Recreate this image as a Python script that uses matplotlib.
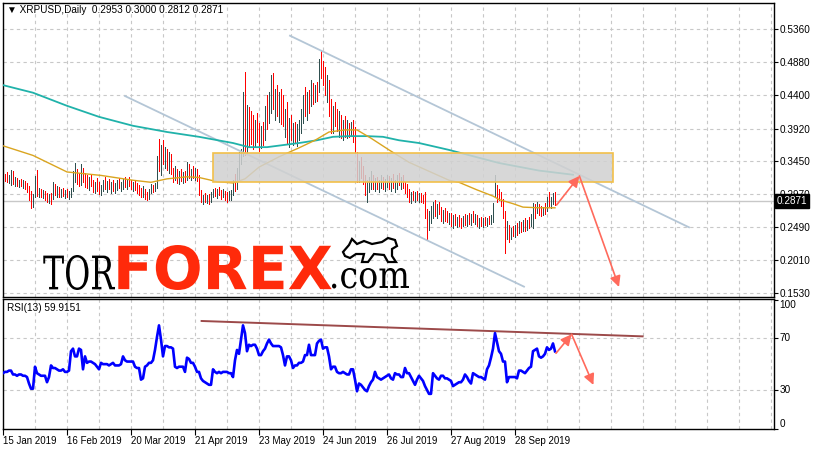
import numpy as np
import pandas as pd
import matplotlib
matplotlib.use('Agg')
import matplotlib.pyplot as plt
from matplotlib.patches import Rectangle, PathPatch, Polygon
from matplotlib.textpath import TextPath
from matplotlib.font_manager import FontProperties
from matplotlib.transforms import Affine2D, IdentityTransform

plt.rcParams['font.family'] = ['Liberation Sans', 'DejaVu Sans']

# --- data (daily bars from 15 Jan 2019) ---
symbol = 'XRPUSD,Daily'
start_date = '2019-01-15'
first_open = 0.325

high = [
    .330, .326, .329, .324, .332, .330, .322, .320, .318, .319,
    .317, .316, .313, .308, .302, .297, .323, .332, .306, .305,
    .303, .302, .299, .297, .298, .315, .312, .308, .307, .304,
    .306, .303, .305, .301, .306, .330, .342, .334, .328, .340,
    .335, .328, .325, .322, .326, .318, .315, .320, .314, .310,
    .318, .322, .316, .319, .314, .317, .313, .318, .320, .315,
    .319, .321, .318, .322, .317, .315, .316, .313, .310, .306,
    .308, .305, .300, .304, .312, .310, .313, .352, .377, .368,
    .375, .365, .362, .358, .355, .335, .338, .334, .330, .333,
    .329, .331, .343, .340, .334, .338, .335, .333, .325, .303,
    .296, .298, .295, .297, .300, .305, .306, .304, .307, .303,
    .305, .302, .300, .302, .303, .318, .326, .335, .358, .362,
    .445, .474, .426, .423, .418, .412, .405, .414, .400, .395,
    .402, .425, .441, .445, .470, .473, .450, .455, .445, .450,
    .440, .420, .430, .408, .412, .400, .402, .398, .405, .420,
    .440, .452, .445, .448, .462, .458, .455, .460, .493, .506,
    .490, .482, .470, .462, .435, .425, .430, .420, .418, .412,
    .405, .410, .404, .400, .402, .405, .394, .358, .345, .350,
    .338, .325, .318, .322, .330, .325, .320, .322, .318, .324,
    .322, .319, .325, .323, .320, .326, .318, .324, .328, .322,
    .325, .315, .312, .305, .300, .302, .300, .302, .298, .299,
    .296, .300, .275, .272, .280, .285, .288, .282, .285, .278,
    .274, .276, .272, .270, .270, .266, .268, .264, .267, .262,
    .265, .268, .266, .270, .268, .272, .268, .266, .262, .264,
    .262, .263, .262, .265, .266, .284, .325, .310, .305, .300,
    .290, .272, .258, .252, .248, .250, .252, .255, .258, .256,
    .260, .262, .260, .264, .268, .284, .283, .286, .282, .280,
    .278, .284, .292, .300, .292, .298, .3000,
]
low = [
    .315, .316, .314, .313, .310, .312, .309, .308, .307, .309,
    .306, .304, .300, .288, .277, .278, .292, .294, .293, .292,
    .291, .288, .286, .284, .283, .290, .296, .293, .293, .292,
    .294, .291, .293, .290, .292, .302, .315, .312, .309, .310,
    .314, .307, .306, .303, .309, .300, .298, .302, .297, .296,
    .301, .305, .300, .304, .299, .302, .299, .303, .306, .301,
    .305, .307, .304, .308, .304, .302, .303, .298, .296, .293,
    .292, .290, .288, .290, .298, .300, .301, .306, .330, .325,
    .340, .335, .332, .328, .326, .315, .318, .313, .312, .316,
    .313, .315, .318, .320, .317, .320, .318, .316, .296, .285,
    .283, .286, .284, .282, .285, .292, .294, .291, .295, .290,
    .292, .288, .286, .289, .288, .295, .302, .305, .318, .340,
    .352, .354, .357, .365, .370, .362, .365, .372, .360, .364,
    .368, .375, .392, .400, .415, .420, .405, .410, .402, .398,
    .395, .380, .370, .365, .375, .368, .372, .366, .375, .385,
    .400, .410, .405, .415, .425, .428, .430, .432, .445, .465,
    .455, .440, .430, .410, .385, .385, .395, .388, .380, .378,
    .376, .380, .378, .380, .382, .372, .356, .315, .315, .320,
    .312, .295, .285, .300, .305, .305, .302, .305, .300, .306,
    .304, .301, .307, .305, .302, .306, .300, .305, .310, .304,
    .306, .298, .292, .286, .284, .288, .286, .288, .285, .286,
    .284, .262, .230, .245, .255, .262, .265, .262, .268, .258,
    .255, .258, .256, .253, .250, .248, .252, .249, .251, .248,
    .250, .252, .250, .254, .252, .256, .254, .250, .248, .250,
    .249, .252, .251, .253, .254, .256, .293, .285, .288, .280,
    .262, .211, .232, .228, .232, .236, .234, .238, .240, .242,
    .243, .244, .245, .248, .250, .248, .262, .270, .266, .265,
    .266, .268, .272, .279, .276, .282, .2812,
]
close = [
    .322, .320, .317, .319, .326, .315, .318, .312, .315, .311,
    .313, .309, .303, .296, .285, .292, .318, .300, .302, .296,
    .299, .293, .291, .294, .288, .309, .302, .305, .298, .301,
    .297, .300, .296, .298, .303, .325, .330, .318, .315, .333,
    .320, .318, .310, .318, .312, .305, .310, .307, .301, .306,
    .312, .309, .313, .307, .310, .305, .309, .314, .310, .312,
    .314, .310, .315, .312, .309, .311, .306, .302, .300, .297,
    .303, .294, .292, .299, .306, .303, .309, .345, .338, .362,
    .350, .355, .340, .345, .333, .322, .330, .318, .325, .320,
    .324, .318, .336, .326, .330, .324, .330, .320, .300, .290,
    .293, .288, .291, .286, .296, .300, .298, .302, .299, .296,
    .301, .294, .292, .297, .300, .312, .308, .330, .350, .356,
    .430, .380, .415, .400, .380, .372, .395, .380, .368, .385,
    .375, .418, .405, .438, .460, .430, .440, .418, .432, .410,
    .405, .405, .378, .396, .385, .392, .382, .390, .398, .412,
    .432, .425, .438, .430, .450, .435, .448, .440, .485, .478,
    .470, .448, .462, .420, .400, .410, .405, .395, .408, .390,
    .395, .386, .395, .388, .392, .378, .360, .325, .340, .325,
    .318, .300, .310, .316, .320, .312, .315, .308, .312, .318,
    .309, .314, .320, .311, .316, .310, .314, .320, .315, .318,
    .308, .304, .296, .290, .295, .291, .295, .290, .293, .289,
    .288, .268, .245, .265, .272, .275, .270, .278, .272, .262,
    .268, .264, .260, .266, .258, .262, .255, .260, .257, .252,
    .260, .258, .262, .258, .264, .260, .263, .255, .258, .253,
    .257, .256, .259, .257, .262, .280, .300, .295, .292, .285,
    .268, .240, .250, .238, .244, .240, .248, .242, .252, .246,
    .255, .250, .256, .252, .262, .278, .276, .280, .270, .268,
    .274, .272, .290, .284, .287, .2953, .2871,
]

# moving averages (day index, value)
ma_fast_day = [0, 15, 32, 49, 65, 74, 82, 92, 98, 107, 115, 121, 128, 138, 148, 156,
               163, 171, 177, 184, 193, 203, 213, 223, 228, 237, 245, 248, 255, 260, 268, 276]
ma_fast = [.367, .353, .329, .324, .317, .314, .319, .322, .321, .315, .313, .319, .336, .351,
           .364, .375, .387, .390, .390, .378, .361, .343, .330, .317, .314, .303, .294, .289,
           .283, .278, .277, .277]
ma_slow_day = [0, 15, 32, 48, 65, 82, 98, 115, 123, 132, 140, 148, 157, 165, 173, 182,
               190, 198, 208, 223, 248, 268, 285]
ma_slow = [.455, .444, .425, .409, .396, .387, .380, .371, .365, .365, .368, .371, .375,
           .380, .381, .381, .380, .375, .371, .361, .342, .331, .325]

rsi = [
    43, 44, 44, 45, 45, 42, 42, 41, 42, 42,
    41, 41, 40, 35, 31, 31, 48, 43, 42, 41,
    41, 41, 36, 40, 49, 47, 47, 46, 45, 45,
    46, 44, 44, 45, 60, 62, 56, 56, 62, 61,
    46, 56, 51, 52, 52, 51, 50, 48, 46, 51,
    50, 50, 50, 49, 50, 51, 49, 49, 49, 50,
    56, 53, 52, 52, 52, 52, 48, 47, 47, 38,
    39, 48, 49, 51, 51, 53, 61, 71, 80, 69,
    56, 64, 64, 63, 63, 62, 48, 47, 48, 48,
    48, 44, 55, 54, 51, 51, 48, 44, 44, 39,
    37, 36, 35, 34, 34, 46, 44, 43, 44, 43,
    44, 44, 44, 43, 43, 40, 53, 61, 58, 69,
    80, 74, 60, 65, 64, 65, 65, 62, 57, 57,
    60, 62, 66, 69, 66, 64, 64, 64, 64, 63,
    57, 49, 56, 56, 53, 47, 49, 49, 51, 51,
    52, 57, 57, 65, 57, 57, 57, 66, 68, 69,
    62, 63, 63, 56, 46, 48, 48, 44, 43, 43,
    44, 43, 42, 42, 46, 46, 38, 29, 35, 34,
    32, 30, 29, 33, 36, 38, 44, 40, 39, 38,
    39, 40, 41, 42, 39, 38, 43, 42, 42, 40,
    40, 47, 43, 43, 40, 37, 34, 38, 41, 39,
    37, 33, 30, 27, 27, 43, 41, 39, 38, 41,
    41, 39, 39, 38, 37, 33, 34, 35, 36, 36,
    38, 42, 40, 37, 35, 43, 42, 41, 40, 40,
    39, 38, 46, 49, 55, 62, 74, 67, 60, 58,
    52, 52, 36, 40, 40, 40, 40, 39, 45, 45,
    44, 43, 45, 47, 48, 60, 61, 62, 56, 55,
    56, 58, 63, 61, 62, 66, 59.9151,
]

price_ticks = [0.5360, 0.4880, 0.4400, 0.3920, 0.3450, 0.2970, 0.2490, 0.2010, 0.1530]
rsi_ticks = [100, 70, 30, 0]
rsi_period = 13

# analyst drawings (day index, value)
zone_days = [105, 305]
zone_prices = [0.314, 0.357]
channel_up = [(143.5, 0.5267), (343, 0.2487)]
channel_dn = [(61, 0.4392), (260.5, 0.1626)]
price_arrows = [((276.8, 0.2811), (288.2, 0.3232)), ((288.2, 0.3232), (308, 0.1621))]
rsi_trend = [(99.3, 83.4), (319.8, 71.5)]
rsi_arrows = [((276.5, 58.4), (284.3, 73.1)), ((284.3, 73.1), (295.2, 33.9))]

# --- figure ---
W, H = 815, 450
fig = plt.figure(figsize=(W / 100, H / 100), dpi=100)


def px_box(x0, y0, x1, y1):
    return [x0 / W, 1 - y1 / H, (x1 - x0) / W, (y1 - y0) / H]


ax = fig.add_axes(px_box(2.5, 2.5, 773.5, 296.5))
ax2 = fig.add_axes(px_box(2.5, 298.5, 773.5, 429))

n = len(close)
days = np.arange(n)
opens = [first_open] + close[:-1]
dates = pd.date_range(start_date, periods=n, freq='D')
grid_kw = dict(color='#c8c8c8', lw=0.8, ls=(0, (3, 3)), zorder=0)

for a in (ax, ax2):
    a.set_xlim(-0.25, 385.25)
    for d in range(16, 386, 16):
        a.axvline(d, **grid_kw)
    for s in a.spines.values():
        s.set_color('black')
        s.set_linewidth(1)
    a.yaxis.tick_right()

# price panel
ax.set_ylim(0.1483, 0.5749)
for p in price_ticks:
    ax.axhline(p, **grid_kw)
ax.axhline(close[-1], color='#c8c8c8', lw=1, zorder=0.5)

colors = ['#2f4f4f' if c >= o else '#ff0000' for o, c in zip(opens, close)]
ax.vlines(days, low, high, colors=colors, lw=0.7, antialiased=False, zorder=2)
ax.plot(ma_slow_day, ma_slow, color='#20b2aa', lw=1.3, zorder=3)
ax.plot(ma_fast_day, ma_fast, color='#daa520', lw=1.0, zorder=3)
for line in (channel_up, channel_dn):
    ax.plot([line[0][0], line[1][0]], [line[0][1], line[1][1]], color='#b4c6d6', lw=1.3, zorder=2.5)

ax.add_patch(Rectangle((zone_days[0], zone_prices[0]), zone_days[1] - zone_days[0],
                       zone_prices[1] - zone_prices[0], fc=(0.82, 0.82, 0.82, 0.85),
                       ec='#f2c04a', lw=1.2, zorder=4))

arrow_kw = dict(arrowstyle='-|>', color='#ff6a5c', lw=1.2, mutation_scale=16, shrinkA=0, shrinkB=0)
for a_from, a_to in price_arrows:
    ax.annotate('', xy=a_to, xytext=a_from, arrowprops=arrow_kw, zorder=6)

ax.set_xticks([])
ax.set_yticks(price_ticks)
ax.set_yticklabels([f'{p:.4f}' for p in price_ticks])
ax.tick_params(axis='y', length=3, width=0.8, pad=1.5, labelsize=7.2)
ax.text(1.004, close[-1], f'{close[-1]:.4f}', transform=ax.get_yaxis_transform(),
        color='white', fontsize=7.2, va='center', ha='left', clip_on=False,
        bbox=dict(fc='black', ec='black', pad=1.2), zorder=10)

# RSI panel
ax2.set_ylim(-0.2, 100.8)
for lv in (70, 30):
    ax2.axhline(lv, **grid_kw)
ax2.plot(days, rsi, color='#0000ff', lw=1.9, zorder=3)
ax2.plot([rsi_trend[0][0], rsi_trend[1][0]], [rsi_trend[0][1], rsi_trend[1][1]],
         color='#9c4a4a', lw=1.4, zorder=2)
for a_from, a_to in rsi_arrows:
    ax2.annotate('', xy=a_to, xytext=a_from, arrowprops=arrow_kw, zorder=6)

ax2.set_yticks(rsi_ticks)
ax2.tick_params(axis='y', length=3, width=0.8, labelright=False)
for lv in rsi_ticks:
    va = 'top' if lv == 100 else ('bottom' if lv == 0 else 'center')
    ax2.text(1.008, lv, str(lv), transform=ax2.get_yaxis_transform(), fontsize=7.2,
             va=va, ha='left', clip_on=False)

tick_pos = list(range(0, n, 32))
ax2.set_xticks(tick_pos)
ax2.set_xticklabels([dates[i].strftime('%d %b %Y') for i in tick_pos], ha='left')
ax2.tick_params(axis='x', length=4, width=0.8, pad=1, labelsize=7)

# header texts
fig.text(7 / W, 1 - 10 / H,
         f'\u25bc {symbol}  {opens[-1]:.4f} {high[-1]:.4f} {low[-1]:.4f} {close[-1]:.4f}',
         fontsize=7.2, va='center', ha='left')
fig.text(7 / W, 1 - 308 / H, f'RSI({rsi_period}) {rsi[-1]:.4f}', fontsize=7.2, va='center', ha='left')


# watermark logo, fitted into pixel boxes
def fit_text(s, box, color, prop):
    tp = TextPath((0, 0), s, size=100, prop=prop)
    ext = tp.get_extents()
    x0, y0, x1, y1 = box
    tr = (Affine2D().translate(-ext.x0, -ext.y0)
          .scale((x1 - x0) / ext.width, (y1 - y0) / ext.height)
          .translate(x0, H - y1))
    fig.add_artist(PathPatch(tr.transform_path(tp), fc=color, ec='none',
                             transform=IdentityTransform(), zorder=20))


fit_text('TOR', (43.3, 255, 115, 290), 'black', FontProperties(family='DejaVu Serif'))
fit_text('FOREX', (118.3, 245, 331.7, 290), '#ff2a0a',
         FontProperties(family='DejaVu Sans', weight='bold'))
fit_text('.com', (332, 268, 409, 288.5), 'black', FontProperties(family='DejaVu Serif'))

bull = [(343, 252), (349, 245), (352, 239), (357, 244), (364, 241), (372, 244), (382, 242),
        (388, 238), (395, 240), (397, 246), (392, 249), (392, 256), (396, 262), (388, 262),
        (384, 255), (374, 254), (368, 262), (362, 262), (364, 254), (356, 254), (350, 258),
        (345, 256)]
fig.add_artist(Polygon([(x, H - y) for x, y in bull], closed=True, fc='white', ec='black',
                       lw=1.6, transform=IdentityTransform(), zorder=20))

fig.savefig('out.png', dpi=100, facecolor='white')
